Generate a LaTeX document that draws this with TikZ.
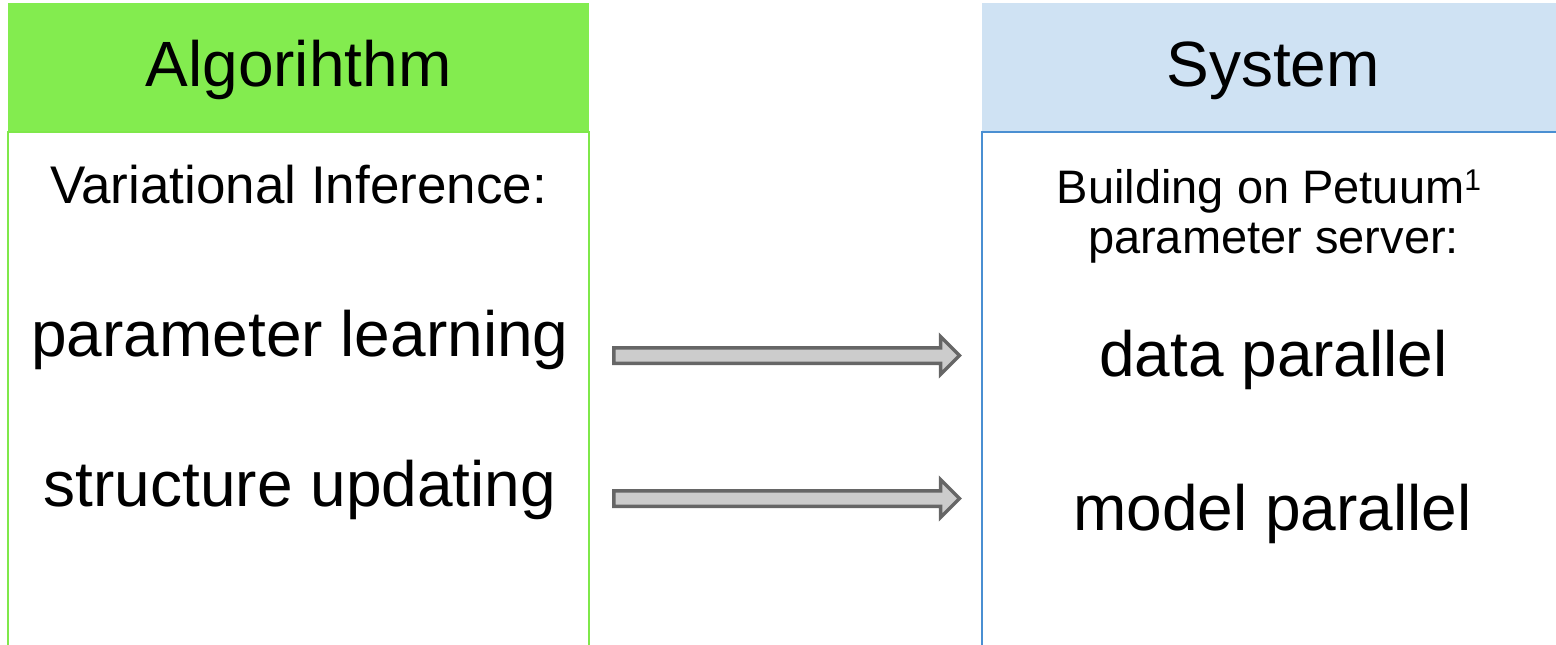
\documentclass[tikz,border=0pt]{standalone}
\usepackage{fontspec}
\setmainfont{Liberation Sans}
\usetikzlibrary{calc}

\definecolor{hdrgreen}{HTML}{83EC4F}
\definecolor{boxgreen}{HTML}{7FE84A}
\definecolor{hdrblue}{HTML}{CFE2F3}
\definecolor{boxblue}{HTML}{4A8FD2}
\definecolor{arrowfill}{HTML}{CCCCCC}
\definecolor{arrowline}{HTML}{666666}

\tikzset{
  header/.style={draw=none, inner sep=0pt, minimum width=#1, minimum height=129pt, anchor=north west},
  bigtext/.style={inner sep=0pt, anchor=base, font=\fontsize{64}{70}\selectfont},
  midtext/.style={inner sep=0pt, anchor=base, font=\fontsize{53}{60}\selectfont},
  smalltext/.style={inner sep=0pt, anchor=base, font=\fontsize{47}{52}\selectfont},
  fatarrow/.style={draw=arrowline, fill=arrowfill, line width=3.5pt, line join=miter},
  greenedge/.style={draw=boxgreen, line width=2pt},
  blueedge/.style={draw=boxblue, line width=2pt}
}

% footnote mark set as a raised, smaller digit
\newcommand\fnmark[1]{\raisebox{13pt}{\fontsize{30}{30}\selectfont #1}}

% block arrow from #1 (tail) to #2 (tip)
\newcommand\fatarrow[2]{%
  \draw[fatarrow] ($(#1)+(0,-7.75)$) -- ($(#2)+(-19,-7.75)$) -- ($(#2)+(-19,-19)$)
    -- (#2) -- ($(#2)+(-19,19)$) -- ($(#2)+(-19,7.75)$) -- ($(#1)+(0,7.75)$) -- cycle;}

\begin{document}
\begin{tikzpicture}[x=1pt, y=-1pt]
  \useasboundingbox (0,0) rectangle (1556,645);

  % column headers
  \node[header=581pt, fill=hdrgreen] (algh) at (8,3) {};
  \node[header=590pt, fill=hdrblue] (sysh) at (982,3) {};

  % open-bottomed column bodies
  \draw[greenedge] ($(algh.south west)+(0,530)$) -- (algh.south west)
    -- (algh.south east) -- ++(0,530);
  \draw[blueedge] ($(sysh.south west)+(0,530)$) -- (sysh.south west) -- ++(600,0);

  % header titles
  \node[bigtext] (algt) at (298.5,86) {Algorihthm};
  \node[bigtext] (syst) at (1273,86) {System};

  % algorithm column
  \node[midtext] (vi) at (298.5,203) {Variational Inference:};
  \node[bigtext] (pl) at (300,356) {parameter learning};
  \node[bigtext] (su) at (300,506) {structure updating};

  % system column
  \node[smalltext] (bp) at (1269,203) {Building on Petuum\fnmark{1}};
  \node[smalltext] (ps) at (1273.5,253) {parameter server:};
  \node[bigtext] (dp) at (1273.5,376) {data parallel};
  \node[bigtext] (mp) at (1272.5,530) {model parallel};

  % mapping arrows
  \coordinate (a1s) at (613.75,355.5);
  \coordinate (a1e) at (959.5,355.5);
  \coordinate (a2s) at (613.75,498.5);
  \coordinate (a2e) at (959.5,498.5);
  \fatarrow{a1s}{a1e}
  \fatarrow{a2s}{a2e}
\end{tikzpicture}
\end{document}
